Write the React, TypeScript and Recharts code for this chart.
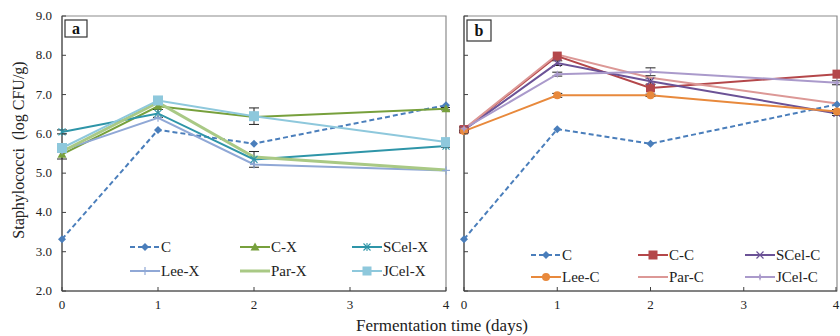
import React from 'react'
import { LineChart, Line, XAxis, YAxis, ReferenceArea, ErrorBar } from 'recharts'

// sampling days
const days = [0, 1, 2, 4]
const xTicks = [0, 1, 2, 3, 4]
const yTicks = [2, 3, 4, 5, 6, 7, 8, 9]

// panel a (log CFU/g)
const cA = [3.32, 6.1, 5.75, 6.73]
const cxA = [5.48, 6.7, 6.43, 6.64]
const scelXA = [6.05, 6.52, 5.35, 5.69]
const leeXA = [5.58, 6.41, 5.22, 5.07]
const parXA = [5.55, 6.8, 5.41, 5.08]
const jcelXA = [5.64, 6.85, 6.45, 5.79]

// panel b (log CFU/g)
const cB = [3.32, 6.12, 5.75, 6.75]
const ccB = [6.11, 7.98, 7.17, 7.52]
const scelCB = [6.1, 7.8, 7.34, 6.52]
const leeCB = [6.07, 6.98, 6.98, 6.57]
const parCB = [6.12, 8.02, 7.43, 6.77]
const jcelCB = [6.13, 7.52, 7.58, 7.3]

// standard errors (only the visible ones)
const cxErrA = [0.12, 0.08, 0.05, 0.03]
const scelXErrA = [0.05, 0.1, 0.2, 0.03]
const jcelXErrA = [0.05, 0.05, 0.21, 0.05]
const scelCErrB = [0.05, 0.06, 0.08, 0.05]
const jcelCErrB = [0.05, 0.05, 0.1, 0.05]
const leeCErrB = [0.03, 0.05, 0.03, 0.05]

type Shape = 'diamond' | 'triangle' | 'star' | 'plus' | 'none' | 'square' | 'bigsquare' | 'x' | 'circle' | 'spark'

interface Series {
  key: string
  name: string
  values: number[]
  errors?: number[]
  color: string
  shape: Shape
  width?: number
  dashed?: boolean
}

const seriesA: Series[] = [
  { key: 'c', name: 'C', values: cA, color: '#4a7ebb', shape: 'diamond', dashed: true },
  { key: 'cx', name: 'C-X', values: cxA, errors: cxErrA, color: '#77a03c', shape: 'triangle' },
  { key: 'scel', name: 'SCel-X', values: scelXA, errors: scelXErrA, color: '#2e95a8', shape: 'star' },
  { key: 'lee', name: 'Lee-X', values: leeXA, color: '#90a8d6', shape: 'plus' },
  { key: 'par', name: 'Par-X', values: parXA, color: '#a9c985', shape: 'none', width: 3 },
  { key: 'jcel', name: 'JCel-X', values: jcelXA, errors: jcelXErrA, color: '#8ec8dc', shape: 'bigsquare' },
]

const seriesB: Series[] = [
  { key: 'c', name: 'C', values: cB, color: '#4a7ebb', shape: 'diamond', dashed: true },
  { key: 'cc', name: 'C-C', values: ccB, color: '#b4474a', shape: 'square' },
  { key: 'scel', name: 'SCel-C', values: scelCB, errors: scelCErrB, color: '#6b5296', shape: 'x' },
  { key: 'lee', name: 'Lee-C', values: leeCB, errors: leeCErrB, color: '#e8893c', shape: 'circle' },
  { key: 'par', name: 'Par-C', values: parCB, color: '#dc9896', shape: 'none' },
  { key: 'jcel', name: 'JCel-C', values: jcelCB, errors: jcelCErrB, color: '#aa9acb', shape: 'spark' },
]

const buildRows = (list: Series[]) =>
  days.map((d, i) => {
    const row: Record<string, number> = { day: d }
    list.forEach((s) => {
      row[s.key] = s.values[i]
      if (s.errors) row[s.key + '_e'] = s.errors[i]
    })
    return row
  })

const FONT = '"Liberation Serif", "DejaVu Serif", serif'

function Marker({ shape, cx, cy, color }: { shape: Shape; cx: number; cy: number; color: string }) {
  switch (shape) {
    case 'diamond':
      return <path d={`M${cx},${cy - 4}L${cx + 4},${cy}L${cx},${cy + 4}L${cx - 4},${cy}Z`} fill={color} />
    case 'triangle':
      return <path d={`M${cx},${cy - 4.5}L${cx + 4.5},${cy + 3.5}L${cx - 4.5},${cy + 3.5}Z`} fill={color} />
    case 'square':
      return <rect x={cx - 4.5} y={cy - 4.5} width={9} height={9} fill={color} />
    case 'bigsquare':
      return <rect x={cx - 5} y={cy - 5} width={10} height={10} fill={color} />
    case 'circle':
      return <circle cx={cx} cy={cy} r={4} fill={color} />
    case 'plus':
      return (
        <g stroke={color} strokeWidth={1.2}>
          <line x1={cx - 4} y1={cy} x2={cx + 4} y2={cy} />
          <line x1={cx} y1={cy - 4} x2={cx} y2={cy + 4} />
        </g>
      )
    case 'x':
      return (
        <g stroke={color} strokeWidth={1.2}>
          <line x1={cx - 3.5} y1={cy - 3.5} x2={cx + 3.5} y2={cy + 3.5} />
          <line x1={cx - 3.5} y1={cy + 3.5} x2={cx + 3.5} y2={cy - 3.5} />
        </g>
      )
    case 'star':
      return (
        <g stroke={color} strokeWidth={1.1}>
          <line x1={cx - 3.5} y1={cy - 3.5} x2={cx + 3.5} y2={cy + 3.5} />
          <line x1={cx - 3.5} y1={cy + 3.5} x2={cx + 3.5} y2={cy - 3.5} />
          <line x1={cx} y1={cy - 4} x2={cx} y2={cy + 4} />
        </g>
      )
    case 'spark':
      return <path d={`M${cx},${cy - 4}L${cx + 1.5},${cy}L${cx},${cy + 4}L${cx - 1.5},${cy}Z M${cx - 4},${cy}L${cx},${cy - 1.5}L${cx + 4},${cy}L${cx},${cy + 1.5}Z`} fill={color} />
    default:
      return null
  }
}

const YTick = ({ x, y, payload, showLabel }: any) => (
  <g>
    <line x1={x} y1={y} x2={x + 4} y2={y} stroke="#404040" />
    {showLabel && (
      <text x={x - 10} y={y + 4} textAnchor="end" fontSize={13} fontFamily={FONT} fill="#222">
        {Number(payload.value).toFixed(1)}
      </text>
    )}
  </g>
)

const XTick = ({ x, y, payload }: any) => (
  <g>
    <line x1={x} y1={y} x2={x} y2={y - 4} stroke="#404040" />
    <text x={x} y={y + 18} textAnchor="middle" fontSize={13} fontFamily={FONT} fill="#222">
      {payload.value}
    </text>
  </g>
)

function LegendBox({ list, colX, rowY }: { list: Series[]; colX: number[]; rowY: number[] }) {
  return (
    <g>
      {list.map((s, i) => {
        const x = colX[i % 3]
        const y = rowY[Math.floor(i / 3)]
        return (
          <g key={s.key}>
            <line
              x1={x}
              y1={y}
              x2={x + 30}
              y2={y}
              stroke={s.color}
              strokeWidth={s.width ?? 2}
              strokeDasharray={s.dashed ? '5 3' : undefined}
            />
            <Marker shape={s.shape === 'bigsquare' ? 'square' : s.shape} cx={x + 15} cy={y} color={s.color} />
            <text x={x + 31} y={y + 5} fontSize={15} fontFamily={FONT} fill="#222">
              {s.name}
            </text>
          </g>
        )
      })}
    </g>
  )
}

function Panel({
  list,
  width,
  yWidth,
  marginRight,
  showYLabels,
  tag,
  legendX,
  legendY,
}: {
  list: Series[]
  width: number
  yWidth: number
  marginRight: number
  showYLabels: boolean
  tag: string
  legendX: number[]
  legendY: number[]
}) {
  const rows = buildRows(list)
  return (
    <LineChart width={width} height={336} data={rows} margin={{ top: 16, right: marginRight, bottom: 15, left: 0 }}>
      <ReferenceArea x1={0} x2={4} y1={2} y2={9} fill="none" stroke="#8c8c8c" strokeWidth={1.2} />
      <XAxis
        type="number"
        dataKey="day"
        domain={[0, 4]}
        ticks={xTicks}
        height={30}
        tickSize={0}
        tickMargin={0}
        tickLine={false}
        axisLine={{ stroke: '#404040' }}
        tick={<XTick />}
      />
      <YAxis
        domain={[2, 9]}
        ticks={yTicks}
        width={yWidth}
        tickSize={0}
        tickMargin={0}
        tickLine={false}
        axisLine={{ stroke: '#404040' }}
        tick={<YTick showLabel={showYLabels} />}
      />
      {list.map((s) => (
        <Line
          key={s.key}
          dataKey={s.key}
          name={s.name}
          stroke={s.color}
          strokeWidth={s.width ?? 2}
          strokeDasharray={s.dashed ? '5 3' : undefined}
          isAnimationActive={false}
          dot={(p: any) => <Marker key={`${s.key}-${p.index}`} shape={s.shape} cx={p.cx} cy={p.cy} color={s.color} />}
          activeDot={false}
        >
          {s.errors && <ErrorBar dataKey={s.key + '_e'} width={5} stroke="#222" strokeWidth={1} direction="y" />}
        </Line>
      ))}
      <LegendBox list={list} colX={legendX} rowY={legendY} />
      <g>
        <rect x={yWidth + 3} y={20} width={tag === 'a' ? 22 : 24} height={tag === 'a' ? 17 : 21} fill="#fff" stroke="#333" strokeWidth={1.2} />
        <text x={yWidth + (tag === 'a' ? 14 : 15)} y={tag === 'a' ? 34 : 36} textAnchor="middle" fontSize={16} fontWeight="bold" fontFamily={FONT} fill="#111">
          {tag}
        </text>
      </g>
    </LineChart>
  )
}

export default function App() {
  return (
    <div style={{ position: 'absolute', left: 0, top: 0, width: 840, height: 336, background: '#fff', fontFamily: FONT }}>
      <div style={{ position: 'absolute', left: 0, top: 0 }}>
        <Panel
          list={seriesA}
          width={450}
          yWidth={62}
          marginRight={4}
          showYLabels
          tag="a"
          legendX={[130, 240, 352]}
          legendY={[247, 271]}
        />
      </div>
      <div style={{ position: 'absolute', left: 450, top: 0 }}>
        <Panel
          list={seriesB}
          width={390}
          yWidth={14}
          marginRight={3}
          showYLabels={false}
          tag="b"
          legendX={[81, 188, 295]}
          legendY={[255, 277]}
        />
      </div>
      <svg width={840} height={336} style={{ position: 'absolute', left: 0, top: 0, pointerEvents: 'none' }}>
        <text transform="translate(24,150) rotate(-90)" textAnchor="middle" fontSize={16} fontFamily={FONT} fill="#222">
          Staphylococci{'\u00a0\u00a0'}(log CFU/g)
        </text>
        <text x={442} y={331} textAnchor="middle" fontSize={17} fontFamily={FONT} fill="#222">
          Fermentation time (days)
        </text>
      </svg>
    </div>
  )
}
